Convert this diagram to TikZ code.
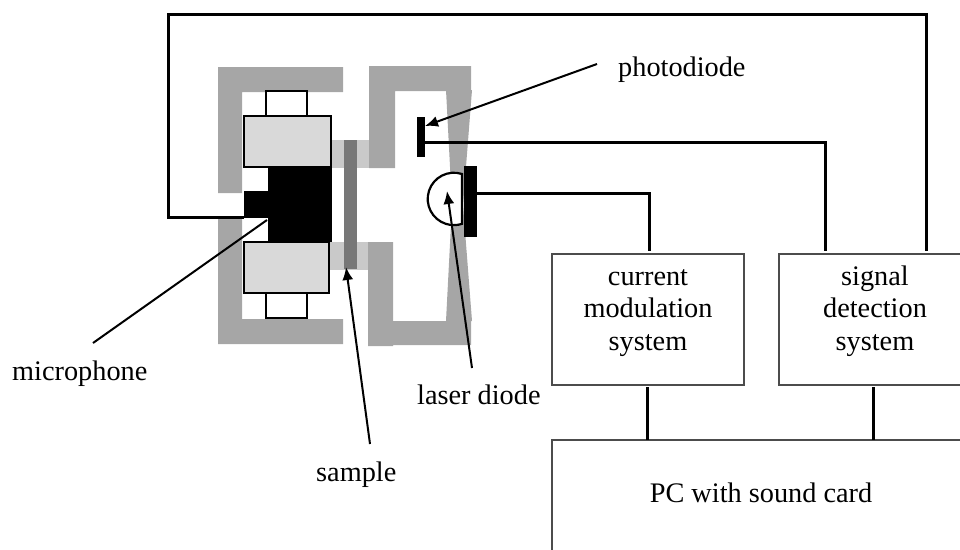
\documentclass[tikz,border=0pt]{standalone}
\usepackage{fontspec}
\setmainfont{Liberation Serif}
\usepackage{xcolor}
\usetikzlibrary{arrows.meta,positioning}
\definecolor{housing}{HTML}{A6A6A6}
\definecolor{channel}{HTML}{C9C9C9}
\definecolor{magnet}{HTML}{D9D9D9}
\definecolor{plate}{HTML}{777777}

\begin{document}
\begin{tikzpicture}[
    x=1pt,y=-1pt,
    sysbox/.style={draw=black!70,line width=1.6pt,align=center,inner sep=0pt,
                   font=\fontsize{28.3}{32.5}\selectfont},
    caption/.style={inner sep=0pt,anchor=base west,font=\fontsize{28.3}{32.5}\selectfont},
    part/.style={fill=black,inner sep=0pt},
    coil/.style={draw=black,line width=1.6pt,fill=magnet,inner sep=0pt},
    endcap/.style={draw=black,line width=1.4pt,fill=white,inner sep=0pt},
    wire/.style={line width=3pt},
    arrow/.style={-{Latex[length=13pt,width=11pt]},line width=2pt}
]
\useasboundingbox (0,0) rectangle (960,549);

% gas channels and sample
\fill[channel] (331,140) rectangle (370,168);
\fill[channel] (329,242) rectangle (368,270);
\fill[plate] (344,140) rectangle (357,269);

% housing
\fill[housing] (343,67) -- (218,67) -- (218,193) -- (242,193) -- (242,92) -- (343,92) -- cycle;
\fill[housing] (343,344) -- (218,344) -- (218,217) -- (242,217) -- (242,319) -- (343,319) -- cycle;
\fill[housing] (369,66) -- (471,66) -- (471,91) -- (395,91) -- (395,168) -- (369,168) -- cycle;
\fill[housing] (368,242) -- (393,242) -- (393,321) -- (471,321) -- (471,345) -- (393,345) -- (393,346) -- (368,346) -- cycle;
\fill[housing] (446,90) -- (472,90) -- (463,205) -- (472,321) -- (446,321) -- (452,205) -- cycle;

% microphone parts
\node[endcap,minimum width=41pt,minimum height=25pt] (captop) at (286.5,103.5) {};
\node[endcap,minimum width=41pt,minimum height=25pt] (capbot) at (286.5,305.5) {};
\node[coil,minimum width=87pt,minimum height=51pt] (coiltop) at (287.5,141.5) {};
\node[coil,minimum width=85pt,minimum height=51pt] (coilbot) at (286.5,267.5) {};
\node[part,minimum width=64pt,minimum height=75pt] (mic) at (300,204.5) {};
\node[part,minimum width=24pt,minimum height=27pt] (jack) at (256,204.5) {};

% diodes
\node[part,minimum width=8pt,minimum height=40pt] (pd) at (421,137) {};
\node[part,minimum width=13pt,minimum height=71pt] (ld) at (470.5,201.5) {};
\draw[line width=2.2pt,fill=white] (462,174) arc[start angle=72,end angle=288,radius=26.2pt] -- cycle;

% blocks
\node[sysbox,minimum width=192pt,minimum height=131pt] (current) at (648,319.5)
    {\strut current\\modulation\\system\\[-6pt]~};
\node[sysbox,minimum width=192pt,minimum height=131pt] (signal) at (875,319.5)
    {\strut signal\\detection\\system\\[-6pt]~};
\node[sysbox,minimum width=418pt,minimum height=160pt] (pc) at (761,520) {};
\node[caption,anchor=base] (pclabel) at (761,502) {PC with sound card};

% labels
\node[caption] (photodiode) at (618,76) {photodiode};
\node[caption] (microphone) at (12,380) {microphone};
\node[caption] (sample) at (316,481) {sample};
\node[caption] (laser) at (417,404) {laser diode};

% wires
\coordinate (pdpin) at (425,142);
\coordinate (ldpin) at (477,193);
\coordinate (jackpin) at (244,217);
\coordinate (sigin) at (825,251);
\coordinate (sigout) at (926,251);
\coordinate (curin) at (649,251);
\coordinate (curout) at (647,387);
\coordinate (sigdown) at (873,387);
\coordinate (pccur) at (647,440);
\coordinate (pcsig) at (873,440);
\draw[wire] (pdpin) -| (sigin);
\draw[wire] (ldpin) -| (curin);
\draw[wire] (jackpin) -- (168,217) -- (168,14) -| (sigout);
\draw[wire] (curout) -- (pccur);
\draw[wire] (sigdown) -- (pcsig);

% pointers
\coordinate (pdtip) at (425,126);
\coordinate (mictip) at (267,220);
\coordinate (sampletip) at (346,267);
\coordinate (ldtip) at (447,191);
\draw[arrow] (597,64) -- (pdtip);
\draw[line width=2pt] (93,343) -- (mictip);
\draw[arrow] (370,444) -- (sampletip);
\draw[arrow] (472,368) -- (ldtip);
\end{tikzpicture}
\end{document}
